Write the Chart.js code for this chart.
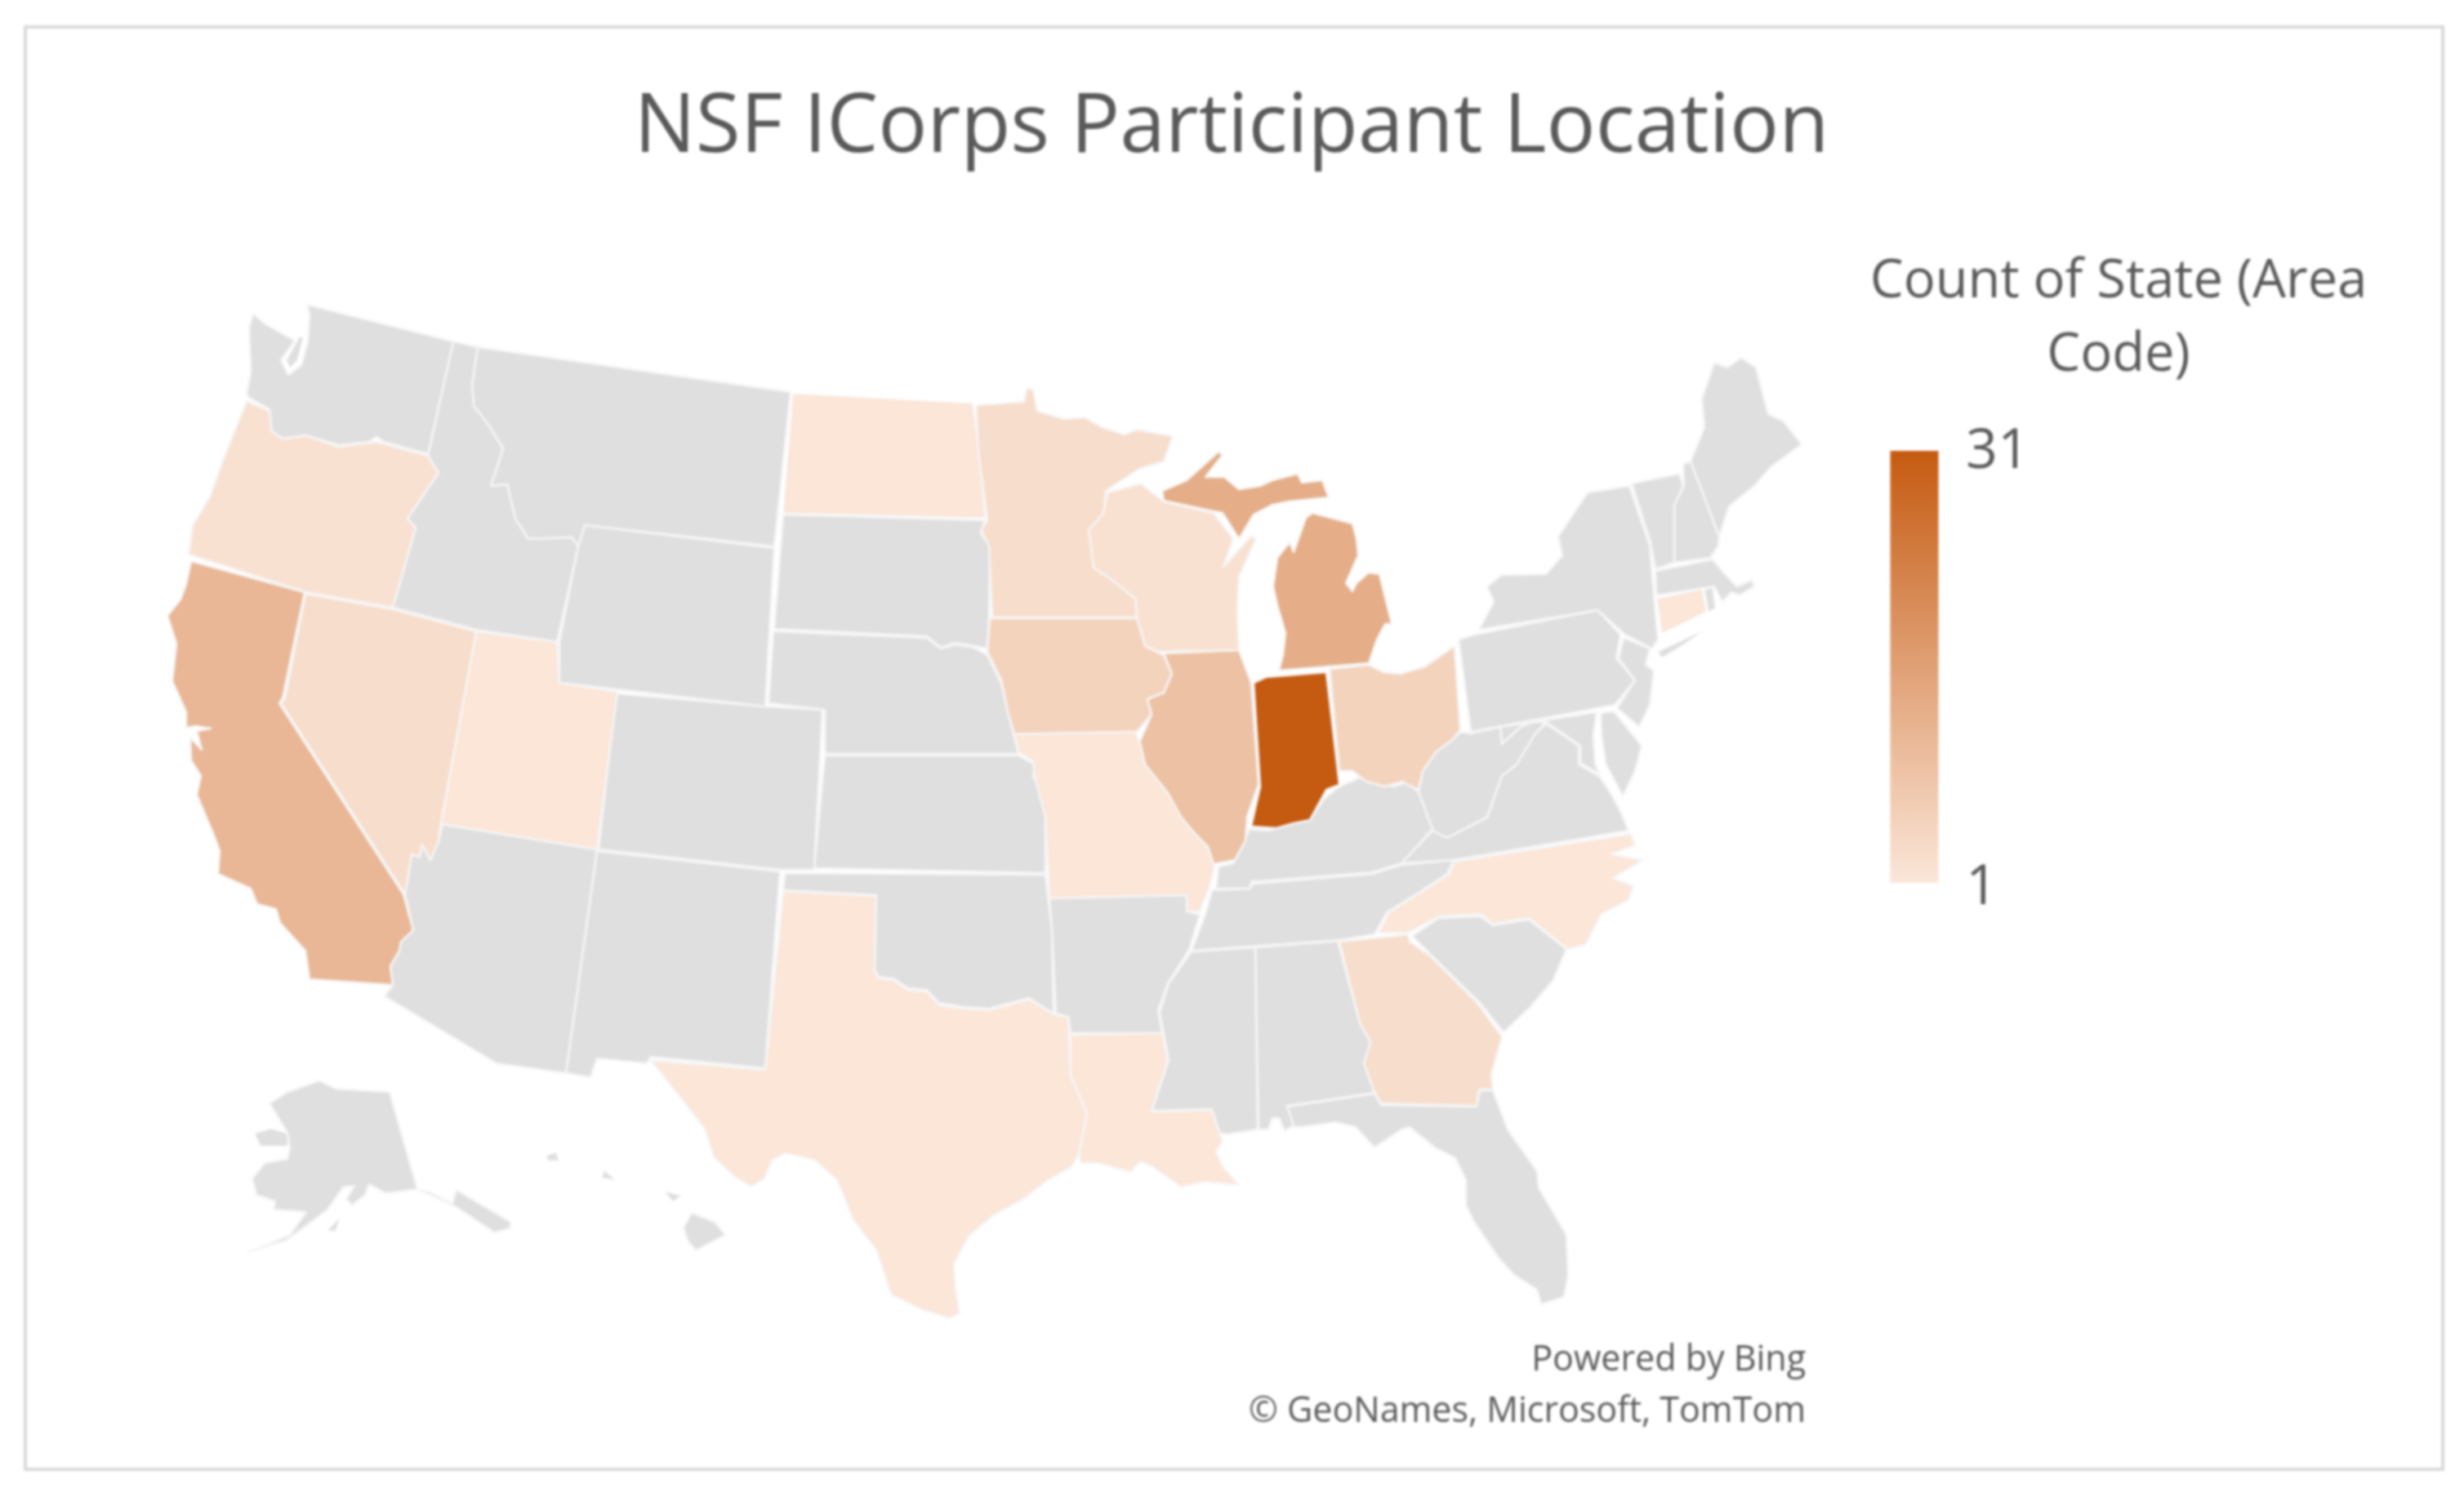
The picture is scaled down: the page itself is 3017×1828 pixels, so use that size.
<!DOCTYPE html>
<html>
<head>
<meta charset="utf-8">
<title>NSF ICorps Participant Location</title>
<script src="https://cdn.jsdelivr.net/npm/chart.js@4"></script>
<style>
  html, body { margin: 0; padding: 0; background: #fff; }
  canvas { display: block; filter: blur(1.5px); }
</style>
</head>
<body>
<canvas id="map" width="3017" height="1828"></canvas>
<script>
const chartTitle = "NSF ICorps Participant Location";
const legendTitle = ["Count of State (Area", "Code)"];
const legendMin = 1;
const legendMax = 31;
const credits = ["Powered by Bing", "\u00A9 GeoNames, Microsoft, TomTom"];

// State outlines in map units
const WA = [[376,373],[555,418],[524,556],[470,541],[461,535],[452,541],[415,545],[374,533],[346,537],[333,528],[330,501],[305,487],[302,482],[307,455],[305,401],[310,384],[325,397],[361,417],[344,441],[353,459],[369,447],[377,418],[379,386]];
const WA_KITSAP = [[367,412],[351,441],[355,450],[364,441],[371,414]];
const OR = [[302,491],[330,503],[333,528],[346,537],[374,533],[415,547],[461,541],[524,558],[537,579],[517,608],[499,635],[509,646],[481,744],[374,725],[231,679],[236,643],[257,608],[272,566]];
const CA = [[234,687],[358,721],[373,725],[346,855],[342,861],[494,1095],[506,1139],[491,1153],[489,1164],[478,1183],[481,1206],[379,1199],[374,1164],[343,1130],[338,1113],[315,1107],[307,1088],[267,1070],[269,1042],[262,1023],[241,973],[246,950],[234,931],[233,903],[247,918],[241,895],[258,892],[240,889],[228,891],[228,872],[211,834],[216,788],[205,754],[221,734],[228,715]];
const NV = [[374,727],[481,746],[583,773],[540,1007],[537,1030],[527,1053],[517,1034],[514,1049],[504,1046],[496,1095],[344,861],[349,855]];
const ID = [[555,418],[585,425],[578,470],[580,497],[598,520],[616,549],[601,595],[621,593],[631,635],[647,660],[700,658],[708,669],[682,786],[583,771],[481,744],[509,646],[499,635],[517,608],[537,579],[524,558]];
const MT = [[585,425],[968,480],[948,669],[716,643],[708,669],[700,658],[647,660],[631,635],[621,593],[601,595],[616,549],[598,520],[580,497],[578,470]];
const WY = [[716,643],[948,671],[937,865],[685,836],[685,786],[708,669]];
const UT = [[583,773],[682,786],[685,836],[756,847],[731,1040],[540,1009]];
const AZ = [[542,1009],[731,1040],[693,1314],[608,1302],[471,1220],[481,1206],[478,1183],[489,1164],[491,1153],[506,1139],[496,1095],[504,1046],[514,1049],[517,1034],[527,1053],[537,1030]];
const NM = [[731,1042],[955,1067],[937,1308],[797,1294],[792,1302],[731,1296],[723,1319],[693,1314]];
const CO = [[754,849],[937,865],[1007,869],[997,1065],[955,1065],[733,1040]];
const OK = [[961,1069],[1280,1071],[1288,1139],[1290,1241],[1260,1222],[1211,1235],[1180,1233],[1150,1228],[1135,1212],[1112,1210],[1094,1198],[1076,1196],[1071,1188],[1073,1096],[959,1090]];
const TX = [[959,1091],[1073,1097],[1071,1190],[1076,1198],[1094,1200],[1112,1212],[1135,1214],[1150,1231],[1180,1235],[1211,1237],[1260,1224],[1293,1243],[1308,1245],[1311,1318],[1331,1363],[1321,1412],[1313,1428],[1283,1445],[1252,1469],[1216,1488],[1186,1514],[1168,1547],[1170,1579],[1175,1608],[1163,1614],[1130,1604],[1091,1585],[1073,1530],[1045,1494],[1025,1445],[997,1420],[961,1412],[946,1420],[936,1443],[920,1453],[900,1441],[874,1417],[863,1382],[797,1298],[937,1310]];
const LA = [[1311,1267],[1423,1265],[1430,1298],[1410,1361],[1484,1359],[1497,1398],[1489,1410],[1497,1428],[1517,1451],[1476,1447],[1446,1453],[1410,1428],[1397,1422],[1384,1435],[1344,1424],[1323,1424],[1321,1412],[1331,1363],[1311,1318]];
const AR = [[1285,1100],[1453,1096],[1453,1116],[1469,1120],[1456,1163],[1430,1204],[1418,1237],[1423,1265],[1311,1265],[1308,1245],[1293,1241],[1288,1139]];
const MO = [[1242,899],[1390,896],[1397,913],[1402,936],[1430,971],[1446,1000],[1466,1024],[1479,1037],[1487,1061],[1481,1086],[1469,1116],[1453,1116],[1453,1096],[1285,1100],[1280,1000],[1267,951],[1265,932],[1247,921]];
const IA = [[1212,757],[1392,757],[1402,791],[1425,802],[1435,825],[1425,848],[1405,856],[1410,875],[1392,896],[1242,899],[1234,871],[1226,833],[1209,798]];
const MN = [[1195,496],[1254,492],[1257,475],[1265,477],[1270,503],[1303,513],[1328,511],[1349,523],[1377,532],[1392,526],[1436,534],[1425,565],[1395,574],[1354,601],[1351,628],[1333,649],[1339,695],[1364,712],[1390,733],[1392,756],[1215,756],[1211,668],[1201,649],[1209,637],[1198,553]];
const WI = [[1356,603],[1397,592],[1425,614],[1486,628],[1510,660],[1498,694],[1532,656],[1538,660],[1517,706],[1515,745],[1517,796],[1418,798],[1402,791],[1392,756],[1390,733],[1364,712],[1339,695],[1333,649],[1351,628]];
const IL = [[1425,800],[1517,796],[1532,836],[1541,960],[1527,1000],[1525,1029],[1512,1053],[1481,1059],[1479,1037],[1466,1024],[1443,1000],[1430,971],[1402,936],[1395,909],[1410,875],[1405,856],[1425,848],[1435,825]];
const IN = [[1535,836],[1550,829],[1624,823],[1640,961],[1624,967],[1606,1000],[1604,1004],[1584,1008],[1563,1014],[1532,1012],[1543,963]];
const MI_LOWER = [[1566,821],[1676,812],[1686,783],[1696,764],[1704,764],[1689,703],[1676,701],[1661,714],[1656,724],[1648,714],[1663,680],[1661,660],[1656,641],[1607,628],[1599,634],[1584,676],[1579,664],[1564,683],[1559,718],[1564,741],[1574,775],[1571,802]];
const MI_UPPER = [[1423,601],[1453,588],[1492,553],[1497,557],[1476,584],[1499,584],[1517,599],[1543,595],[1558,588],[1589,580],[1594,591],[1619,588],[1627,609],[1578,614],[1558,618],[1535,630],[1517,660],[1497,628],[1486,626],[1425,613]];
const OH = [[1628,819],[1676,814],[1694,823],[1714,825],[1745,816],[1781,791],[1788,894],[1778,906],[1758,921],[1742,944],[1737,967],[1717,957],[1696,963],[1673,957],[1656,944],[1640,944]];
const KY = [[1530,1015],[1553,1017],[1584,1008],[1604,1004],[1622,977],[1640,963],[1665,952],[1706,963],[1722,958],[1737,970],[1754,1015],[1716,1057],[1680,1068],[1543,1079],[1533,1079],[1530,1088],[1489,1088],[1492,1061],[1510,1057],[1520,1039]];
const TN = [[1484,1090],[1530,1088],[1535,1082],[1680,1070],[1716,1059],[1780,1053],[1772,1070],[1737,1093],[1698,1117],[1683,1144],[1640,1151],[1459,1164],[1476,1119]];
const MS = [[1459,1165],[1537,1160],[1540,1383],[1502,1389],[1492,1387],[1484,1358],[1410,1360],[1431,1298],[1420,1240],[1431,1204]];
const AL = [[1537,1160],[1638,1152],[1665,1253],[1678,1276],[1670,1302],[1683,1338],[1576,1354],[1584,1378],[1573,1385],[1566,1369],[1558,1369],[1553,1383],[1541,1383]];
const GA = [[1640,1153],[1724,1144],[1726,1153],[1752,1171],[1808,1227],[1839,1269],[1826,1316],[1828,1334],[1811,1334],[1808,1354],[1691,1351],[1681,1334],[1670,1302],[1678,1276],[1665,1253]];
const FL = [[1576,1355],[1683,1339],[1691,1353],[1808,1355],[1812,1335],[1828,1335],[1846,1383],[1882,1434],[1884,1454],[1918,1512],[1920,1561],[1915,1588],[1887,1597],[1882,1579],[1854,1561],[1834,1539],[1805,1496],[1795,1476],[1795,1445],[1782,1418],[1757,1405],[1726,1380],[1716,1383],[1683,1405],[1660,1380],[1635,1374],[1594,1380],[1584,1380]];
const SC = [[1729,1146],[1762,1124],[1813,1122],[1828,1133],[1872,1126],[1918,1162],[1902,1200],[1872,1235],[1841,1264],[1813,1229],[1754,1171]];
const NC = [[1780,1055],[1997,1021],[2002,1035],[1972,1046],[2012,1053],[1975,1075],[2000,1085],[1994,1102],[1961,1119],[1941,1157],[1920,1162],[1872,1124],[1828,1131],[1813,1119],[1762,1122],[1724,1142],[1688,1142],[1701,1117],[1739,1093],[1775,1070]];
const VA = [[1716,1057],[1754,1017],[1772,1026],[1821,1001],[1839,950],[1857,936],[1880,898],[1893,886],[1933,913],[1933,936],[1959,951],[1974,974],[1985,995],[1994,1017],[1780,1053]];
const WV = [[1788,896],[1801,898],[1837,890],[1839,911],[1862,890],[1877,884],[1893,884],[1880,898],[1857,936],[1839,950],[1821,1000],[1772,1026],[1754,1017],[1737,970],[1742,944],[1758,921],[1778,906]];
const MD_WEST = [[1837,890],[1955,872],[1951,900],[1953,935],[1959,948],[1935,934],[1935,913],[1893,884],[1877,884],[1862,890],[1839,911]];
const DELMARVA = [[1960,873],[1976,871],[2010,913],[2002,944],[1987,975],[1966,935],[1961,900]];
const PA = [[1786,783],[1806,777],[1956,747],[1984,777],[1979,806],[2002,833],[1977,863],[1801,896]];
const NY = [[1811,771],[1829,737],[1821,718],[1839,704],[1893,703],[1913,680],[1908,657],[1944,603],[1995,595],[2020,668],[2025,729],[2030,783],[2023,794],[1990,777],[1956,747]];
const LONG_ISLAND = [[2030,798],[2086,772],[2060,790],[2035,805]];
const NJ = [[1988,781],[2020,794],[2015,814],[2025,821],[2020,863],[2007,890],[1980,867],[2002,833],[1982,806]];
const CT = [[2029,733],[2084,722],[2089,749],[2035,775]];
const RI = [[2087,722],[2097,720],[2100,745],[2092,749]];
const MA = [[2027,699],[2097,685],[2112,703],[2127,718],[2145,710],[2148,718],[2130,729],[2120,725],[2109,737],[2099,718],[2028,729]];
const VT = [[1998,592],[2056,580],[2061,595],[2050,618],[2050,689],[2027,697],[2021,664]];
const NH = [[2061,568],[2070,565],[2105,657],[2104,668],[2094,683],[2050,689],[2050,618],[2062,595]];
const ME = [[2070,565],[2087,523],[2084,488],[2099,444],[2115,450],[2132,438],[2150,450],[2165,507],[2183,515],[2206,544],[2168,572],[2148,595],[2117,620],[2105,657]];
const SD = [[959,630],[1206,637],[1201,653],[1212,668],[1211,756],[1209,794],[1193,791],[1170,787],[1152,793],[1135,779],[948,770]];
const ND = [[971,482],[1191,494],[1198,553],[1206,634],[959,628]];
const NE = [[947,773],[1135,781],[1152,794],[1170,789],[1193,793],[1209,802],[1226,837],[1234,871],[1247,923],[1010,923],[1010,869],[941,861]];
const KS = [[1010,925],[1247,925],[1267,936],[1265,951],[1280,975],[1280,1069],[997,1063]];
const AK = [[391,1323],[411,1333],[477,1337],[511,1456],[472,1461],[452,1450],[447,1463],[431,1476],[424,1468],[434,1452],[421,1453],[401,1481],[375,1501],[350,1519],[304,1533],[355,1512],[375,1484],[335,1481],[337,1471],[314,1463],[309,1443],[324,1424],[352,1419],[355,1405],[352,1387],[330,1351],[352,1337]];
const AK_SEWARD = [[352,1388],[332,1382],[312,1388],[319,1403],[352,1403]];
const AK_PANHANDLE = [[513,1457],[523,1458],[554,1473],[559,1457],[625,1496],[625,1504],[605,1509],[559,1478]];
const AK_KODIAK = [[416,1491],[401,1507],[411,1507]];
const HI_BIG = [[847,1485],[875,1496],[888,1512],[852,1531],[842,1519],[837,1503]];
const HI_MAUI = [[814,1459],[834,1464],[824,1471]];
const HI_OAHU = [[740,1433],[753,1445],[737,1442]];
const HI_KAUAI = [[669,1415],[681,1411],[684,1421],[671,1421]];

const regionNames = ["WA","WA","OR","CA","NV","ID","MT","WY","UT","AZ","NM","CO","OK","TX","LA","AR","MO","IA","MN","WI","IL","IN","MI","MI","OH","KY","TN","MS","AL","GA","FL","SC","NC","VA","WV","MD","MD","PA","NY","NY","NJ","CT","RI","MA","VT","NH","ME","SD","ND","NE","KS","AK","AK","AK","AK","HI","HI","HI","HI"];
const regionOutlines = [WA,WA_KITSAP,OR,CA,NV,ID,MT,WY,UT,AZ,NM,CO,OK,TX,LA,AR,MO,IA,MN,WI,IL,IN,MI_LOWER,MI_UPPER,OH,KY,TN,MS,AL,GA,FL,SC,NC,VA,WV,MD_WEST,DELMARVA,PA,NY,LONG_ISLAND,NJ,CT,RI,MA,VT,NH,ME,SD,ND,NE,KS,AK,AK_SEWARD,AK_PANHANDLE,AK_KODIAK,HI_BIG,HI_MAUI,HI_OAHU,HI_KAUAI];
// Count per state as read from the shade, states with no data stay out
const stateNames = ["IN","MI","CA","IL","IA","OH","GA","MN","NV","OR","WI","TX","UT","MO","LA","NC","ND","CT"];
const stateCounts = [31,13,11,9,5,5,3,3,3,2,2,1,1,1,1,1,1,1];

const NO_DATA = "#dfdfdf";
const LOW = [251, 230, 216];
const HIGH = [197, 90, 17];

function shade(count) {
  const t = (count - legendMin) / (legendMax - legendMin);
  const c = LOW.map((v, i) => Math.round(v + (HIGH[i] - v) * t));
  return `rgb(${c[0]},${c[1]},${c[2]})`;
}

function fillFor(name) {
  const i = stateNames.indexOf(name);
  return i < 0 ? NO_DATA : shade(stateCounts[i]);
}

const datasets = regionOutlines.map((ring, i) => ({
  label: regionNames[i],
  data: ring.concat([ring[0]]).map((p) => ({ x: p[0], y: p[1] })),
  showLine: true,
  fill: false,
  tension: 0,
  pointRadius: 0,
  borderColor: "#f6f6f6",
  borderWidth: ring.length < 6 ? 1 : 2.5,
  backgroundColor: fillFor(regionNames[i]),
  borderJoinStyle: "round",
}));

// Colour ramp of the legend, a thick line running from the low to the high value
const rampData = { label: "legend", data: [{ x: 2344, y: 1081 }, { x: 2344, y: 552 }], showLine: true, fill: false, pointRadius: 0, borderWidth: 59, borderCapStyle: "butt", borderColor: shade(legendMax) };
datasets.push(rampData);

// Fills each outline with its dataset colour, the line itself is drawn by Chart.js
const polygonFill = {
  id: "polygonFill",
  afterLayout(chart) {
    const y = chart.scales.y;
    const g = chart.ctx.createLinearGradient(0, y.getPixelForValue(1081), 0, y.getPixelForValue(552));
    g.addColorStop(0, shade(legendMin));
    g.addColorStop(1, shade(legendMax));
    rampData.borderColor = g;
  },
  beforeDatasetDraw(chart, args) {
    const ds = chart.data.datasets[args.index];
    if (ds === rampData) return;
    const pts = args.meta.data;
    const c = chart.ctx;
    c.save();
    c.beginPath();
    pts.forEach((p, i) => (i ? c.lineTo(p.x, p.y) : c.moveTo(p.x, p.y)));
    c.closePath();
    c.fillStyle = ds.backgroundColor;
    c.fill();
    c.restore();
  },
};

const pageText = {
  id: "pageText",
  afterDatasetsDraw(chart) {
    const c = chart.ctx;
    const { x, y } = chart.scales;
    const put = (text, px, py, size, align) => {
      c.font = `${size}px "Open Sans"`;
      c.textAlign = align;
      c.fillText(text, x.getPixelForValue(px), y.getPixelForValue(py));
    };
    c.save();
    c.strokeStyle = "#d9d9d9";
    c.lineWidth = 4;
    c.strokeRect(x.getPixelForValue(31), y.getPixelForValue(33), 2960, 1766);
    c.fillStyle = "#595959";
    c.textBaseline = "alphabetic";
    put(chartTitle, 1508, 186, 100, "center");
    put(legendTitle[0], 2594, 364, 65, "center");
    put(legendTitle[1], 2594, 454, 65, "center");
    put(String(legendMax), 2407, 573, 68, "left");
    put(String(legendMin), 2407, 1107, 68, "left");
    put(credits[0], 2211, 1678, 43, "right");
    put(credits[1], 2211, 1741, 43, "right");
    c.restore();
  },
};

new Chart(document.getElementById("map"), {
  type: "scatter",
  data: { datasets },
  plugins: [polygonFill, pageText],
  options: {
    responsive: false,
    animation: false,
    devicePixelRatio: 1,
    layout: { padding: 0 },
    clip: false,
    scales: {
      x: { type: "linear", display: false, min: 0, max: 3017 },
      y: { type: "linear", display: false, min: 0, max: 1828, reverse: true },
    },
    plugins: {
      legend: { display: false },
      tooltip: { enabled: false },
      title: { display: false },
    },
  },
});
</script>
</body>
</html>
